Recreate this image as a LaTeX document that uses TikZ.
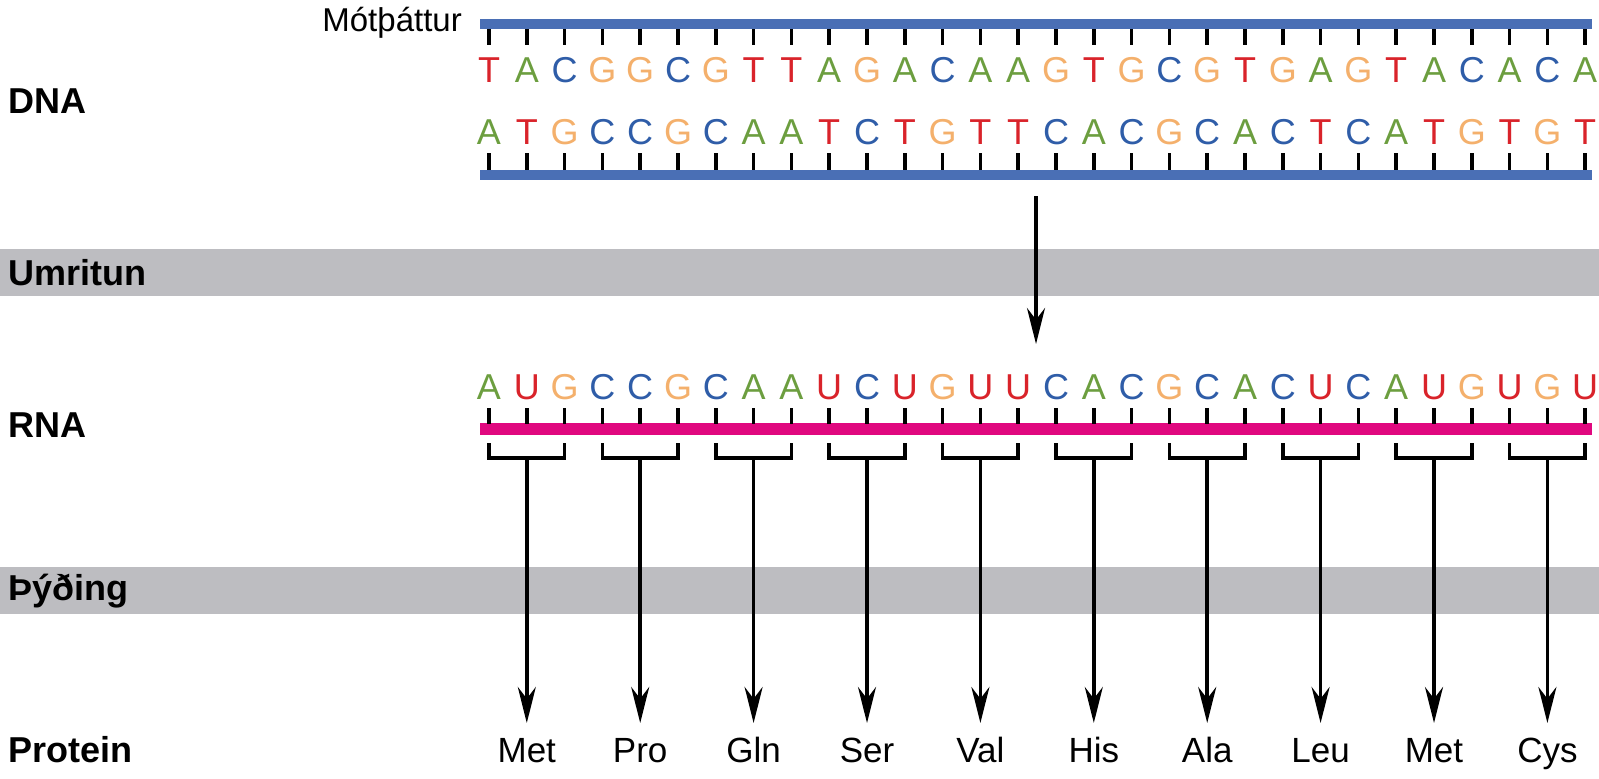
\documentclass[tikz,border=0pt]{standalone}
\usepackage{fontspec}
\setmainfont{Liberation Sans}
\usetikzlibrary{arrows.meta,positioning}
\definecolor{ntred}{HTML}{D9232A}
\definecolor{ntgreen}{HTML}{6C9E3F}
\definecolor{ntblue}{HTML}{2F5DA8}
\definecolor{ntorange}{HTML}{F4B06C}
\definecolor{strandblue}{HTML}{4A6FB5}
\definecolor{rnapink}{HTML}{E0087F}
\definecolor{bandgrey}{HTML}{BDBDC1}
\tikzset{
  base/.style={inner sep=0pt, font=\fontsize{36}{36}\selectfont},
  nt/T/.style={base, text=ntred},
  nt/U/.style={base, text=ntred},
  nt/A/.style={base, text=ntgreen},
  nt/C/.style={base, text=ntblue},
  nt/G/.style={base, text=ntorange},
  side/.style={anchor=west, inner sep=0pt, font=\fontsize{36}{36}\selectfont\bfseries},
  tick/.style={line width=3.5pt},
  amino/.style={anchor=base, inner sep=0pt, font=\fontsize{35}{35}\selectfont},
}
\begin{document}
\begin{tikzpicture}[x=1pt,y=-1pt,>={Stealth[length=36pt,width=18pt]}]
    \useasboundingbox (0,0) rectangle (1599,779);
    % grey bands
    \fill[bandgrey] (0,249) rectangle (1599,296);
    \fill[bandgrey] (0,567) rectangle (1599,614);
    % side labels
    \node (dna)[side] at (8,101) {DNA};
    \node (umr)[side] at (8,273) {Umritun};
    \node (rna)[side] at (8,425) {RNA};
    \node (pyd)[side] at (8,591) {Þýðing};
    \node (prot)[side] at (8,750) {Protein};
    \node (mot)[anchor=east, inner sep=0pt, font=\fontsize{33}{33}\selectfont] at (462,23) {Mótþáttur};
    % strands
    \draw[strandblue, line width=10pt] (480,24) -- (1592,24);
    \draw[strandblue, line width=10pt] (480,175) -- (1592,175);
    \draw[rnapink, line width=12pt] (480,429) -- (1592,429);
    % nucleotides
    \foreach \l [count=\i from 0] in {T,A,C,G,G,C,G,T,T,A,G,A,C,A,A,G,T,G,C,G,T,G,A,G,T,A,C,A,C,A}{
      \node (t\i)[nt/\l] at (489+37.8*\i,70) {\l};
      \draw[tick] (489+37.8*\i,29) -- (489+37.8*\i,45);
    }
    \foreach \l [count=\i from 0] in {A,T,G,C,C,G,C,A,A,T,C,T,G,T,T,C,A,C,G,C,A,C,T,C,A,T,G,T,G,T}{
      \node (b\i)[nt/\l] at (489+37.8*\i,132) {\l};
      \draw[tick] (489+37.8*\i,153) -- (489+37.8*\i,170);
    }
    \foreach \l [count=\i from 0] in {A,U,G,C,C,G,C,A,A,U,C,U,G,U,U,C,A,C,G,C,A,C,U,C,A,U,G,U,G,U}{
      \node (r\i)[nt/\l] at (489+37.8*\i,387) {\l};
      \draw[tick] (489+37.8*\i,408) -- (489+37.8*\i,424);
    }
    % transcription
    \coordinate (dnaout) at (1036,196);
    \coordinate (rnain) at (1036,344);
    \draw[->, line width=3.5pt] (dnaout) -- (rnain);
    % codons and translation
    \foreach \aa [count=\k from 0] in {Met,Pro,Gln,Ser,Val,His,Ala,Leu,Met,Cys}{
      \coordinate (cod\k) at (489+37.8*3*\k+37.8,458);
      \node (p\k)[amino] at (489+37.8*3*\k+37.8,762) {\aa};
      \draw[line width=3.5pt] (489+37.8*3*\k,443) |- (cod\k) -| (489+37.8*3*\k+75.6,443);
      \draw[->, line width=3.5pt] (cod\k) -- (p\k.north |- 0,723);
    }
\end{tikzpicture}
\end{document}
